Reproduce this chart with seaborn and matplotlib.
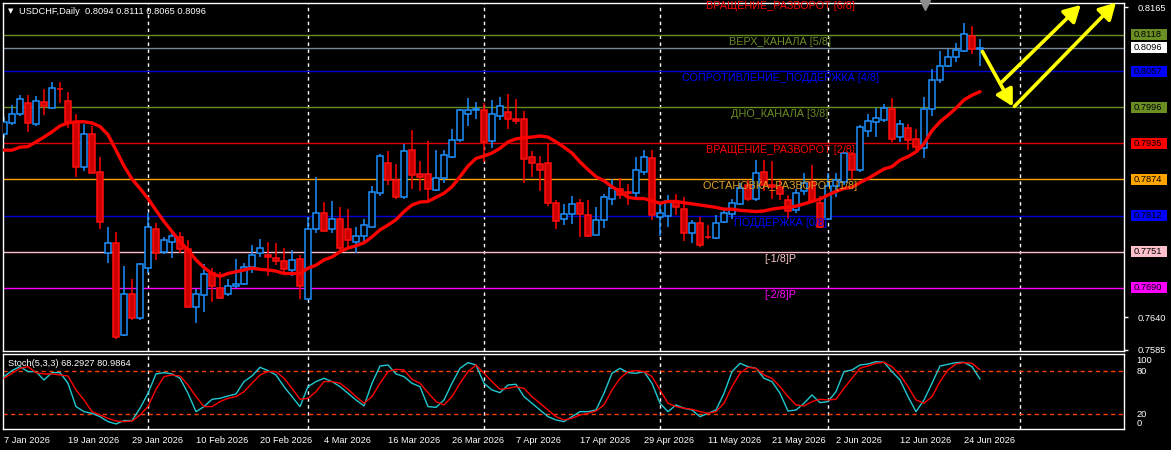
import numpy as np
import pandas as pd
import matplotlib
matplotlib.use("Agg")
import matplotlib.pyplot as plt
import matplotlib.transforms as mtransforms
from matplotlib.patches import Rectangle
import seaborn as sns

# ---- data ----
symbol = "USDCHF,Daily"

opens = [0.7951, 0.7969, 0.7985, 0.8002, 0.7968, 0.8004, 0.7994, 0.8027, 0.8007, 0.7971,
         0.7894, 0.7951, 0.7886, 0.7748, 0.7765, 0.7609, 0.7680, 0.7639, 0.7723, 0.7790,
         0.7750, 0.7768, 0.7776, 0.7755, 0.7658, 0.7677, 0.7714, 0.7689, 0.7679, 0.7692,
         0.7697, 0.7725, 0.7748, 0.7746, 0.7741, 0.7735, 0.7720, 0.7738, 0.7670, 0.7789,
         0.7816, 0.7789, 0.7806, 0.7790, 0.7768, 0.7778, 0.7793, 0.7851, 0.7901, 0.7872,
         0.7844, 0.7923, 0.7883, 0.7882, 0.7855, 0.7876, 0.7912, 0.7940, 0.7985, 0.7991,
         0.7991, 0.7938, 0.7981, 0.7987, 0.7975, 0.7975, 0.7911, 0.7899, 0.7901, 0.7833,
         0.7806, 0.7815, 0.7833, 0.7813, 0.7780, 0.7805, 0.7841, 0.7857, 0.7852, 0.7850,
         0.7886, 0.7909, 0.7809, 0.7811, 0.7835, 0.7824, 0.7782, 0.7799, 0.7776, 0.7774,
         0.7802, 0.7815, 0.7832, 0.7864, 0.7840, 0.7886, 0.7864, 0.7860, 0.7838, 0.7821,
         0.7853, 0.7869, 0.7833, 0.7806, 0.7862, 0.7869, 0.7916, 0.7889, 0.7956, 0.7971,
         0.7974, 0.7992, 0.7945, 0.7960, 0.7942, 0.7926, 0.7992, 0.8041, 0.8066, 0.8081,
         0.8091, 0.8117, 0.8094]
highs = [0.7979, 0.7999, 0.8016, 0.8016, 0.8015, 0.8026, 0.8038, 0.8038, 0.8021, 0.7984,
         0.7967, 0.7963, 0.7912, 0.7792, 0.7784, 0.7727, 0.7705, 0.7732, 0.7816, 0.7799,
         0.7776, 0.7788, 0.7785, 0.7771, 0.7687, 0.7730, 0.7724, 0.7717, 0.7704, 0.7738,
         0.7731, 0.7762, 0.7772, 0.7768, 0.7765, 0.7757, 0.7754, 0.7745, 0.7810, 0.7878,
         0.7835, 0.7837, 0.7827, 0.7824, 0.7792, 0.7807, 0.7862, 0.7916, 0.7921, 0.7899,
         0.7933, 0.7957, 0.7905, 0.7938, 0.7923, 0.7923, 0.7958, 0.7992, 0.8012, 0.8005,
         0.8002, 0.8008, 0.8013, 0.8018, 0.8009, 0.7989, 0.7921, 0.7913, 0.7934, 0.7838,
         0.7832, 0.7845, 0.7840, 0.7838, 0.7827, 0.7849, 0.7874, 0.7876, 0.7866, 0.7911,
         0.7923, 0.7923, 0.7830, 0.7847, 0.7848, 0.7844, 0.7805, 0.7810, 0.7796, 0.7813,
         0.7824, 0.7841, 0.7867, 0.7872, 0.7906, 0.7906, 0.7905, 0.7872, 0.7847, 0.7857,
         0.7884, 0.7898, 0.7845, 0.7884, 0.7884, 0.7920, 0.7920, 0.7966, 0.7984, 0.7994,
         0.8001, 0.8011, 0.7974, 0.7968, 0.7958, 0.8013, 0.8060, 0.8091, 0.8095, 0.8105,
         0.8139, 0.8133, 0.8111]
lows = [0.7943, 0.7966, 0.7980, 0.7954, 0.7964, 0.7982, 0.7992, 0.8003, 0.7961, 0.7878,
        0.7888, 0.7885, 0.7789, 0.7731, 0.7603, 0.7608, 0.7635, 0.7635, 0.7714, 0.7737,
        0.7747, 0.7741, 0.7749, 0.7658, 0.7630, 0.7648, 0.7666, 0.7670, 0.7676, 0.7689,
        0.7694, 0.7714, 0.7742, 0.7709, 0.7728, 0.7717, 0.7709, 0.7670, 0.7669, 0.7782,
        0.7786, 0.7782, 0.7754, 0.7758, 0.7748, 0.7768, 0.7793, 0.7845, 0.7864, 0.7841,
        0.7841, 0.7857, 0.7854, 0.7836, 0.7854, 0.7868, 0.7910, 0.7937, 0.7963, 0.7975,
        0.7903, 0.7927, 0.7974, 0.7959, 0.7968, 0.7868, 0.7878, 0.7854, 0.7829, 0.7789,
        0.7796, 0.7798, 0.7775, 0.7775, 0.7779, 0.7791, 0.7830, 0.7841, 0.7830, 0.7843,
        0.7881, 0.7805, 0.7777, 0.7792, 0.7813, 0.7769, 0.7765, 0.7759, 0.7772, 0.7773,
        0.7799, 0.7806, 0.7830, 0.7836, 0.7836, 0.7854, 0.7841, 0.7838, 0.7807, 0.7816,
        0.7847, 0.7833, 0.7791, 0.7805, 0.7844, 0.7864, 0.7872, 0.7886, 0.7945, 0.7946,
        0.7971, 0.7936, 0.7937, 0.7923, 0.7923, 0.7909, 0.7980, 0.8037, 0.8064, 0.8073,
        0.8090, 0.8086, 0.8065]
closes = [0.7971, 0.7984, 0.8009, 0.7969, 0.8006, 0.7997, 0.8028, 0.8026, 0.7971, 0.7894,
          0.7951, 0.7885, 0.7801, 0.7765, 0.7607, 0.7679, 0.7639, 0.7730, 0.7792, 0.7748,
          0.7770, 0.7777, 0.7755, 0.7658, 0.7679, 0.7713, 0.7692, 0.7673, 0.7692, 0.7697,
          0.7725, 0.7746, 0.7757, 0.7742, 0.7736, 0.7722, 0.7737, 0.7693, 0.7789, 0.7816,
          0.7786, 0.7806, 0.7758, 0.7770, 0.7777, 0.7796, 0.7852, 0.7913, 0.7873, 0.7844,
          0.7921, 0.7881, 0.7878, 0.7857, 0.7875, 0.7915, 0.7940, 0.7991, 0.7991, 0.7993,
          0.7937, 0.7984, 0.7998, 0.7976, 0.7973, 0.7908, 0.7901, 0.7890, 0.7833, 0.7803,
          0.7814, 0.7832, 0.7815, 0.7778, 0.7805, 0.7844, 0.7858, 0.7847, 0.7850, 0.7889,
          0.7911, 0.7813, 0.7817, 0.7837, 0.7826, 0.7783, 0.7799, 0.7762, 0.7775, 0.7800,
          0.7816, 0.7833, 0.7858, 0.7840, 0.7884, 0.7864, 0.7861, 0.7848, 0.7820, 0.7851,
          0.7867, 0.7836, 0.7793, 0.7862, 0.7872, 0.7918, 0.7889, 0.7962, 0.7973, 0.7977,
          0.7994, 0.7942, 0.7967, 0.7940, 0.7929, 0.7992, 0.8042, 0.8065, 0.8080, 0.8093,
          0.8120, 0.8094, 0.8096]
ma_line = [0.7923, 0.7923, 0.7928, 0.7929, 0.7937, 0.7945, 0.7954, 0.7964, 0.7969, 0.7971,
           0.7971, 0.7969, 0.7963, 0.7949, 0.7923, 0.7896, 0.7874, 0.7858, 0.7841, 0.7821,
           0.7802, 0.7785, 0.7768, 0.7754, 0.7737, 0.7724, 0.7714, 0.7709, 0.7714, 0.7717,
           0.7720, 0.7723, 0.7721, 0.7720, 0.7718, 0.7714, 0.7714, 0.7714, 0.7723, 0.7728,
           0.7737, 0.7742, 0.7751, 0.7757, 0.7761, 0.7766, 0.7776, 0.7788, 0.7796, 0.7805,
           0.7819, 0.7830, 0.7835, 0.7836, 0.7843, 0.7850, 0.7861, 0.7878, 0.7896, 0.7909,
           0.7913, 0.7918, 0.7926, 0.7937, 0.7942, 0.7944, 0.7945, 0.7947, 0.7945, 0.7937,
           0.7928, 0.7918, 0.7903, 0.7890, 0.7878, 0.7871, 0.7861, 0.7853, 0.7843, 0.7841,
           0.7841, 0.7837, 0.7833, 0.7836, 0.7836, 0.7834, 0.7832, 0.7830, 0.7828, 0.7826,
           0.7823, 0.7823, 0.7821, 0.7820, 0.7819, 0.7820, 0.7823, 0.7825, 0.7826, 0.7828,
           0.7832, 0.7836, 0.7840, 0.7847, 0.7853, 0.7858, 0.7860, 0.7868, 0.7875, 0.7883,
           0.7891, 0.7895, 0.7906, 0.7912, 0.7920, 0.7934, 0.7956, 0.7971, 0.7982, 0.7994,
           0.8008, 0.8016, 0.8022]
stoch_main = [71.7, 80.0, 85.5, 78.6, 78.6, 67.0, 77.2, 77.2, 62.5, 30.2,
              23.2, 20.9, 16.3, 9.4, 6.2, 10.8, 10.8, 27.9, 48.6, 75.4,
              77.2, 75.4, 69.4, 48.6, 23.2, 30.2, 40.3, 41.7, 44.9, 47.7,
              64.8, 72.6, 84.6, 80.0, 74.0, 57.8, 44.0, 30.2, 57.8, 64.8,
              69.4, 64.8, 57.8, 48.6, 39.4, 31.1, 62.5, 86.4, 87.8, 75.4,
              71.7, 62.5, 57.8, 30.2, 29.2, 39.4, 62.5, 83.2, 91.1, 87.8,
              62.5, 53.2, 49.5, 60.1, 61.1, 44.0, 34.8, 25.5, 16.3, 11.7,
              9.4, 16.3, 23.2, 23.2, 25.5, 48.6, 76.3, 83.2, 77.2, 76.3,
              78.6, 62.5, 34.8, 23.2, 32.5, 27.9, 25.5, 16.3, 20.9, 25.5,
              48.6, 78.6, 90.1, 85.5, 83.2, 69.4, 64.8, 48.6, 24.1, 25.5,
              34.8, 46.3, 35.7, 37.1, 50.9, 78.6, 80.9, 87.8, 89.2, 92.4,
              91.5, 78.6, 67.0, 44.0, 23.2, 39.4, 62.5, 86.4, 88.8, 91.1,
              91.5, 85.5, 68.2927]
stoch_signal = [69.4, 76.3, 83.2, 85.5, 77.2, 75.4, 75.4, 74.0, 72.6, 53.2,
                39.4, 23.2, 18.6, 14.0, 10.3, 9.4, 10.3, 18.6, 30.2, 54.1,
                71.7, 74.0, 72.6, 60.1, 44.0, 30.2, 30.2, 37.1, 41.7, 44.0,
                50.9, 62.5, 74.0, 78.6, 78.6, 69.4, 55.5, 40.3, 41.7, 50.9,
                64.8, 64.8, 62.5, 54.1, 44.0, 34.8, 44.0, 62.5, 78.6, 81.8,
                80.9, 68.0, 62.5, 49.5, 37.1, 32.5, 44.0, 62.5, 78.6, 87.8,
                76.3, 64.8, 54.1, 55.5, 57.8, 55.5, 44.0, 34.8, 25.5, 16.3,
                11.7, 14.0, 18.6, 20.9, 24.1, 32.5, 53.2, 69.4, 78.6, 80.0,
                78.6, 71.7, 53.2, 34.8, 30.2, 27.9, 26.5, 23.2, 20.9, 23.2,
                34.8, 57.8, 76.3, 84.6, 83.2, 74.0, 69.4, 57.8, 44.0, 32.5,
                31.1, 37.1, 40.3, 39.4, 40.3, 55.5, 69.4, 83.2, 86.4, 90.1,
                91.5, 85.5, 74.0, 57.8, 39.4, 34.8, 44.0, 64.8, 80.9, 89.2,
                91.1, 90.1, 80.9864]

date_labels = ["7 Jan 2026", "19 Jan 2026", "29 Jan 2026", "10 Feb 2026", "20 Feb 2026",
               "4 Mar 2026", "16 Mar 2026", "26 Mar 2026", "7 Apr 2026", "17 Apr 2026",
               "29 Apr 2026", "11 May 2026", "21 May 2026", "2 Jun 2026", "12 Jun 2026",
               "24 Jun 2026"]
month_starts = [18, 38, 60, 82, 103, 127]

murrey_levels = [0.8179, 0.8118, 0.8057, 0.7996, 0.7935, 0.7874, 0.7812, 0.7751, 0.7690]
murrey_names = ["ВРАЩЕНИЕ_РАЗВОРОТ [6/8]", "ВЕРХ_КАНАЛА [5/8]", "СОПРОТИВЛЕНИЕ_ПОДДЕРЖКА [4/8]",
                "ДНО_КАНАЛА [3/8]", "ВРАЩЕНИЕ_РАЗВОРОТ [2/8]", "ОСТАНОВКА_РАЗВОРОТ [1/8]",
                "ПОДДЕРЖКА [0/8]", "[-1/8]P", "[-2/8]P"]
murrey_line_colors = ["#ff0000", "#6b8e23", "#0000d0", "#6b8e23", "#e00000", "#ffa500",
                      "#0000d0", "#ffc0cb", "#ff00ff"]
murrey_text_colors = ["#ff0000", "#6b8e23", "#0000ff", "#6b8e23", "#ff0000", "#e0a020",
                      "#0000ff", "#ffc8c8", "#ff00ff"]
murrey_box_colors = ["#ff0000", "#6b8e23", "#0000ff", "#6b8e23", "#ff0000", "#ffa500",
                     "#0000ff", "#ffc0cb", "#ff00ff"]
price_ticks = [0.8165, 0.7640, 0.7585]

# hand-drawn forecast arrows (bar index, price): start -> tip
arrow_starts = [(122.3, 0.8090), (124.7, 0.8038), (126.3, 0.7997)]
arrow_tips = [(126.1, 0.7997), (134.6, 0.8169), (139.0, 0.8173)]

# ---- frame ----
W, H = 1171, 450
bars = np.arange(len(closes))
df = pd.DataFrame({"bar": bars, "open": opens, "high": highs, "low": lows,
                   "close": closes, "ma": ma_line, "k": stoch_main, "d": stoch_signal})
df["bull"] = df["close"] >= df["open"]

sns.set_theme(style="dark", rc={"axes.facecolor": "black", "figure.facecolor": "black",
                                "axes.edgecolor": "white", "text.color": "white",
                                "xtick.color": "white", "ytick.color": "white"})
plt.rcParams["font.family"] = ["Liberation Sans", "DejaVu Sans"]
fs = 6.7

fig = plt.figure(figsize=(W / 100, H / 100), dpi=100)


def px_box(l, t, r, b):
    return [l / W, 1 - b / H, (r - l) / W, (b - t) / H]


ax = fig.add_axes(px_box(3, 3, 1124, 351))
ax2 = fig.add_axes(px_box(3, 354, 1124, 429), sharex=ax)
for a in (ax, ax2):
    a.set_facecolor("black")
    for s in a.spines.values():
        s.set_color("white")
        s.set_linewidth(1)
    a.grid(False)

ax.set_xlim(-0.125, 140)
ax.set_ylim(0.75827, 0.81722)
ax2.set_ylim(-0.8, 103)

# month separators
for a in (ax, ax2):
    for m in month_starts:
        a.axvline(m, color="white", lw=1.0, ls=(0, (2.5, 2.5)), zorder=1)

# Murrey levels
for lvl, lc in zip(murrey_levels, murrey_line_colors):
    ax.axhline(lvl, color=lc, lw=1.0, zorder=1.5)
ax.axhline(closes[-1], color="#778899", lw=1.0, zorder=1.5)

# candles
bull = df[df["bull"]]
bear = df[~df["bull"]]
ax.vlines(bull["bar"], bull["low"], bull["high"], colors="#1e90ff", lw=1.1, zorder=2)
ax.vlines(bear["bar"], bear["low"], bear["high"], colors="#ff0000", lw=1.1, zorder=2)
ax.bar(bull["bar"], (bull["close"] - bull["open"]).clip(lower=0.00002), bottom=bull["open"],
       width=0.72, color="black", edgecolor="#1e90ff", linewidth=1.1, zorder=3)
ax.bar(bear["bar"], (bear["open"] - bear["close"]).clip(lower=0.00002), bottom=bear["close"],
       width=0.72, color="#d00000", edgecolor="#ff1010", linewidth=1.1, zorder=3)

# moving average
sns.lineplot(data=df, x="bar", y="ma", ax=ax, color="#ff0000", linewidth=2.4, zorder=4)

# level labels
label_bar = 97
for lvl, name, tc in zip(murrey_levels, murrey_names, murrey_text_colors):
    t = ax.annotate(name, xy=(label_bar, lvl), xytext=(0, -7), textcoords="offset pixels",
                    ha="center", va="center", color=tc, fontsize=7.8,
                    annotation_clip=False, zorder=7)
    t.set_clip_on(True)

# arrows
for s, e in zip(arrow_starts, arrow_tips):
    ax.annotate("", xy=e, xytext=s, annotation_clip=False, zorder=8,
                arrowprops=dict(arrowstyle="-|>,head_length=0.9,head_width=0.5",
                                color="#ffff00", lw=2.6, shrinkA=0, shrinkB=0,
                                mutation_scale=11, clip_on=False))

# chart shift marker
trans_top = mtransforms.blended_transform_factory(ax.transData, ax.transAxes)
ax.plot([115.1], [0.993], marker="v", color="#8c8c8c", ms=7, transform=trans_top,
        clip_on=False, zorder=9)

# right price axis
ax.yaxis.tick_right()
ax.set_yticks(price_ticks)
ax.set_yticklabels([f"{p:.4f}" for p in price_ticks])
ax.tick_params(axis="y", length=3, width=1, pad=7, labelsize=fs, colors="white")
ax.tick_params(axis="x", bottom=False, labelbottom=False)
ax.set_xlabel("")
ax.set_ylabel("")

trans_r = mtransforms.blended_transform_factory(ax.transAxes, ax.transData)
box_x0 = (1131 - 3) / (1124 - 3)
box_w = 36 / (1124 - 3)
box_h = 11 * (0.81722 - 0.75827) / 348
tag_levels = murrey_levels[1:] + [closes[-1]]
tag_colors = murrey_box_colors[1:] + ["#ffffff"]
for lvl, bc in zip(tag_levels, tag_colors):
    ax.add_patch(Rectangle((box_x0, lvl - box_h / 2), box_w, box_h, transform=trans_r,
                           facecolor=bc, edgecolor="none", clip_on=False, zorder=10))
    ax.text(box_x0 + 3 / 1121, lvl, f"{lvl:.4f}", transform=trans_r, color="black",
            fontsize=fs, ha="left", va="center", zorder=11, clip_on=False)

# stochastic panel
sns.lineplot(data=df, x="bar", y="k", ax=ax2, color="#20c8d0", linewidth=1.0, zorder=3)
sns.lineplot(data=df, x="bar", y="d", ax=ax2, color="#ff0000", linewidth=1.0, zorder=4)
for lvl in (80, 20):
    ax2.axhline(lvl, color="#ff4000", lw=1.0, ls=(0, (3, 2.5)), zorder=2)
ax2.yaxis.tick_right()
ax2.set_yticks([0, 20, 80, 100])
ax2.set_yticklabels(["0", "20", "80", "100"])
ylabs = ax2.get_yticklabels()
ylabs[0].set_va("bottom")
ylabs[3].set_va("top")
ax2.tick_params(axis="y", length=0, pad=9, labelsize=fs, colors="white")
ax2.set_xticks(bars[::8])
ax2.set_xticklabels(date_labels, ha="left")
ax2.tick_params(axis="x", length=3, width=1, pad=2, labelsize=fs, colors="white")
ax2.set_xlabel("")
ax2.set_ylabel("")

# captions
fig.text(11 / W, 1 - 11 / H, "▼", fontsize=5, color="white", ha="center", va="center",
         family="DejaVu Sans")
fig.text(19 / W, 1 - 11 / H,
         f"{symbol}  {opens[-1]:.4f} {highs[-1]:.4f} {lows[-1]:.4f} {closes[-1]:.4f}",
         fontsize=fs, color="white", ha="left", va="center")
fig.text(8 / W, 1 - 364 / H, f"Stoch(5,3,3) {stoch_main[-1]:.4f} {stoch_signal[-1]:.4f}",
         fontsize=fs, color="white", ha="left", va="center")

fig.savefig("out.png", dpi=100, facecolor="black")
